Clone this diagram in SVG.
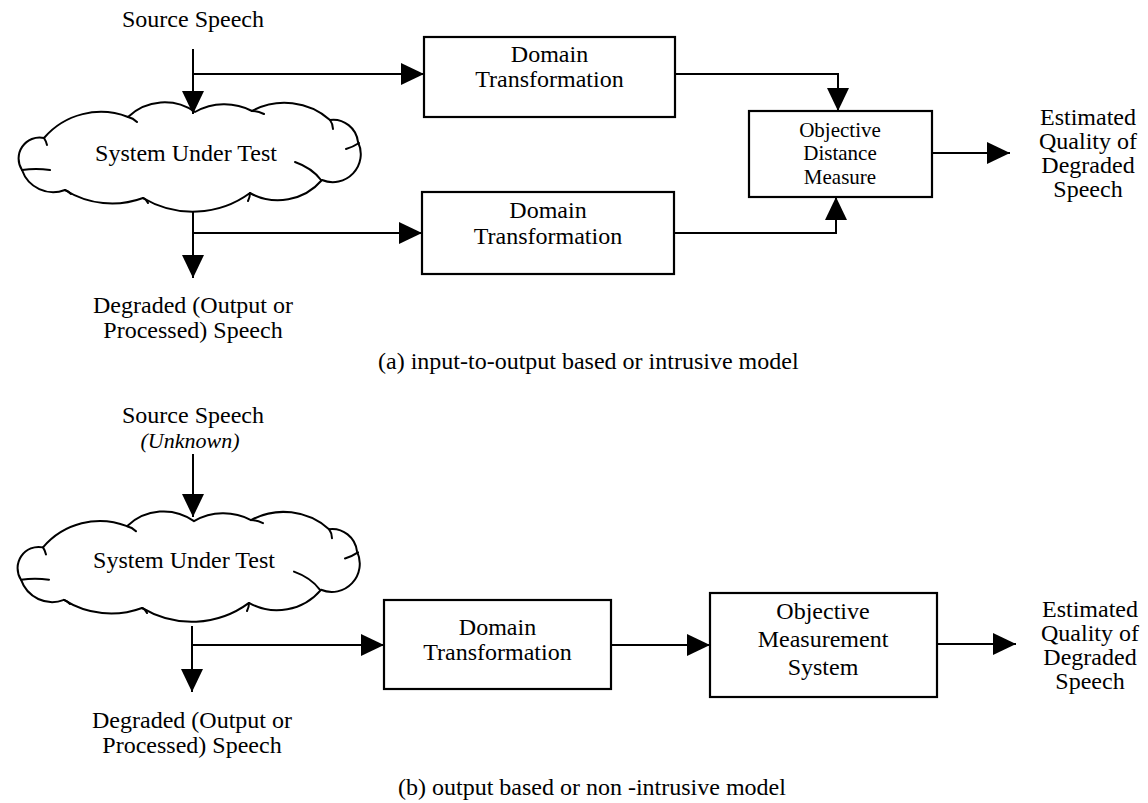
<svg xmlns="http://www.w3.org/2000/svg" xmlns:xlink="http://www.w3.org/1999/xlink" width="1148" height="803" viewBox="0 0 1148 803">
  <style>
    text { font-family: "Liberation Serif", "Times New Roman", serif; fill: #000; text-anchor: middle; }
    .t24 { font-size: 24px; }
    .t22 { font-size: 22px; }
    .t21 { font-size: 21px; }
    .ital { font-style: italic; }
    .cap { font-size: 24px; text-anchor: start; }
    .box { fill: #fff; stroke: #000; stroke-width: 2.2; }
    .cloud { fill: #fff; stroke: #000; stroke-width: 2; stroke-linejoin: round; }
    .cloud-inner { fill: none; stroke: #000; stroke-width: 2; stroke-linecap: round; }
    .wire { fill: none; stroke: #000; stroke-width: 2; marker-end: url(#head); }
  </style>
  <defs>
    <marker id="head" viewBox="0 0 23 22" refX="23" refY="11" markerWidth="23" markerHeight="22" markerUnits="userSpaceOnUse" orient="auto">
      <path d="M0,0 L23,11 L0,22 Z" fill="#000"/>
    </marker>
    <!-- scalloped cloud outline, drawn clockwise from the lower-left cusp -->
    <g id="cloud-shape">
      <path class="cloud" d="M22,170
        A21,21 0 0 1 44,138
        A75,75 0 0 1 128,117
        A53,53 0 0 1 195,112
        A60,60 0 0 1 252,111
        A69,69 0 0 1 330,120
        A25,25 0 0 1 358,142
        A28,28 0 0 1 322,180
        A58,58 0 0 1 250,193
        A97,97 0 0 1 143,198
        A89,89 0 0 1 65,190
        A33,33 0 0 1 22,170 Z"/>
      <path class="cloud-inner" d="M44,138 Q46,141 47,145
        M128,117 Q133,118 137,122
        M252,111 Q258,111 264,114
        M330,120 Q333,124 333,129
        M346,149 Q353,147 359,143
        M295,162 Q312,168 321,180
        M250,193 Q250,197 248,201
        M143,198 Q146,199 148,203
        M65,190 Q68,191 71,194
        M22,170 Q36,168 50,170"/>
    </g>
  </defs>

  <!-- (a) intrusive model -->
  <g id="source-a">
    <text class="t24" x="193" y="27">Source Speech</text>
  </g>
  <g id="sut-a">
    <use xlink:href="#cloud-shape" href="#cloud-shape"/>
    <text class="t24" x="186" y="161">System Under Test</text>
  </g>
  <g id="degraded-a">
    <text class="t24" x="193" y="313">Degraded (Output or</text>
    <text class="t24" x="193" y="338">Processed) Speech</text>
  </g>
  <g id="domain-a1">
    <rect class="box" x="424" y="37" width="251" height="80"/>
    <text class="t24" x="549.5" y="62">Domain</text>
    <text class="t24" x="549.5" y="87">Transformation</text>
  </g>
  <g id="domain-a2">
    <rect class="box" x="422" y="192" width="252" height="82"/>
    <text class="t24" x="548" y="218">Domain</text>
    <text class="t24" x="548" y="244">Transformation</text>
  </g>
  <g id="distance-a">
    <rect class="box" x="749" y="111" width="183" height="86"/>
    <text class="t21" x="840" y="137">Objective</text>
    <text class="t21" x="840" y="160">Distance</text>
    <text class="t21" x="840" y="184">Measure</text>
  </g>
  <g id="quality-a">
    <text class="t24" x="1088" y="125">Estimated</text>
    <text class="t24" x="1088" y="149">Quality of</text>
    <text class="t24" x="1088" y="173">Degraded</text>
    <text class="t24" x="1088" y="197">Speech</text>
  </g>
  <g id="caption-a">
    <text class="cap" x="378" y="369">(a) input-to-output based or intrusive model</text>
  </g>

  <!-- (b) non-intrusive model -->
  <g id="source-b">
    <text class="t24" x="193" y="423">Source Speech</text>
    <text class="t22 ital" x="190" y="448">(Unknown)</text>
  </g>
  <g id="sut-b">
    <use xlink:href="#cloud-shape" href="#cloud-shape" transform="translate(-1,408) scale(1,1.01)"/>
    <text class="t24" x="184" y="568">System Under Test</text>
  </g>
  <g id="degraded-b">
    <text class="t24" x="192" y="728">Degraded (Output or</text>
    <text class="t24" x="192" y="753">Processed) Speech</text>
  </g>
  <g id="domain-b">
    <rect class="box" x="384" y="600" width="227" height="89"/>
    <text class="t24" x="497.5" y="635">Domain</text>
    <text class="t24" x="497.5" y="660">Transformation</text>
  </g>
  <g id="measurement-b">
    <rect class="box" x="710" y="593" width="227" height="104"/>
    <text class="t24" x="823" y="619">Objective</text>
    <text class="t24" x="823" y="647">Measurement</text>
    <text class="t24" x="823" y="675">System</text>
  </g>
  <g id="quality-b">
    <text class="t24" x="1090" y="617">Estimated</text>
    <text class="t24" x="1090" y="641">Quality of</text>
    <text class="t24" x="1090" y="665">Degraded</text>
    <text class="t24" x="1090" y="689">Speech</text>
  </g>
  <g id="caption-b">
    <text class="cap" x="398" y="795">(b) output based or non -intrusive model</text>
  </g>

  <g id="connectors">
    <path class="wire" d="M193,49 V114"/>
    <path class="wire" d="M193,74 H424"/>
    <path class="wire" d="M193,211 V278"/>
    <path class="wire" d="M193,233 H422"/>
    <path class="wire" d="M675,74 H838 V111"/>
    <path class="wire" d="M674,233 H836 V197"/>
    <path class="wire" d="M932,153 H1010"/>

    <path class="wire" d="M193,454 V517"/>
    <path class="wire" d="M192,626 V692"/>
    <path class="wire" d="M192,645 H384"/>
    <path class="wire" d="M611,645 H710"/>
    <path class="wire" d="M937,644 H1016"/>
  </g>
</svg>
